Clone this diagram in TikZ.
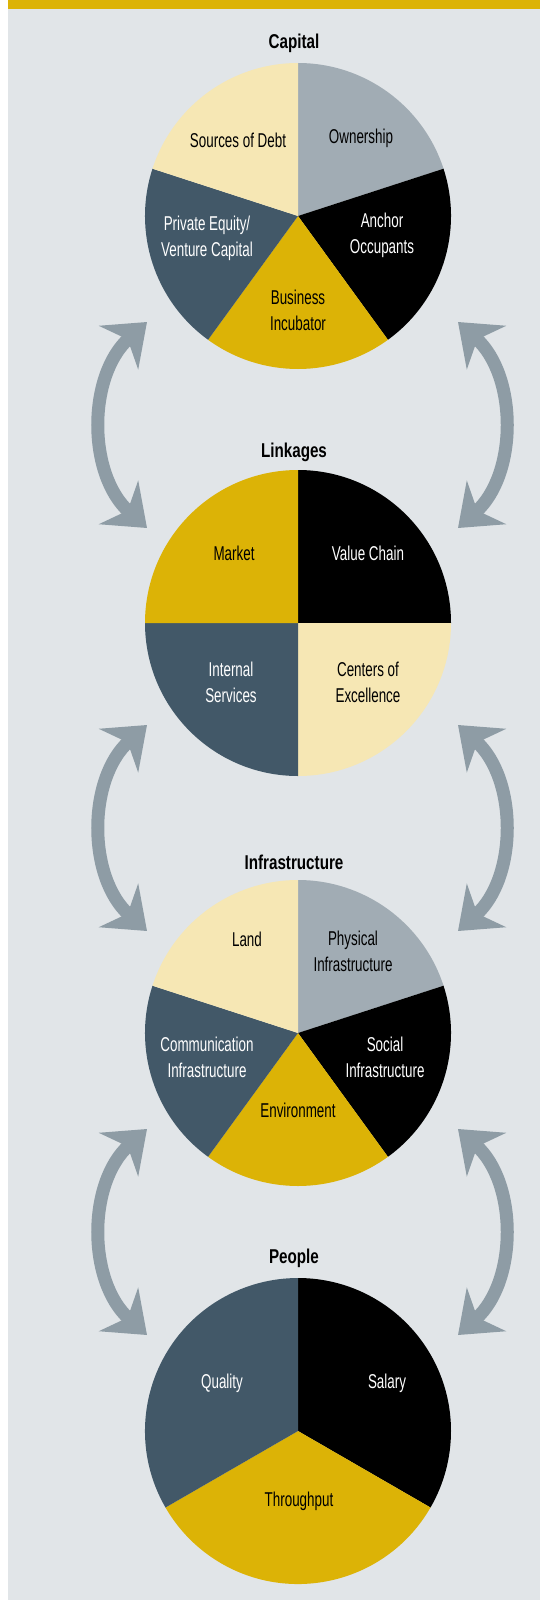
\documentclass[tikz,border=0pt]{standalone}
\usepackage{fontspec}
\setmainfont{Liberation Sans}[FakeStretch=0.67]
\newfontfamily\headfont{Liberation Sans}[FakeStretch=0.76]
\usepackage{tikz}
\usetikzlibrary{arrows.meta}
\definecolor{HubBack}{HTML}{E1E5E8}
\definecolor{HubGold}{HTML}{DCB306}
\definecolor{HubCream}{HTML}{F6E7B4}
\definecolor{HubSilver}{HTML}{A1ACB4}
\definecolor{HubSlate}{HTML}{425868}
\definecolor{HubArrow}{HTML}{8E9CA5}

\begin{document}
\begin{tikzpicture}[x=1pt,y=1pt,
    pie title/.style={font=\headfont\bfseries\fontsize{20}{24}\selectfont, inner sep=0pt},
    ink label/.style={font=\fontsize{20}{26}\selectfont, align=center, inner sep=0pt, text=black},
    pale label/.style={ink label, text=white},
    cycle arrow/.style={draw=HubArrow, line width=13pt,
      >={Stealth[length=38pt,width=58pt,inset=12pt]}, <->}]
        \useasboundingbox (0,0) rectangle (540,-1600);

        % Page background
        \fill[white] (0,0) rectangle (540,-1600);
        \fill[HubBack] (8,-9) rectangle (540,-1600);
        \fill[HubGold] (8,0) rectangle (540,-9);

        % Centres of the four pies
        \coordinate (cap) at (298,-216);
        \coordinate (lnk) at (298,-623);
        \coordinate (inf) at (298,-1033);
        \coordinate (ppl) at (298,-1431);

        % Capital
        \fill[HubSilver] (cap) -- ++(90:153) arc[start angle=90, end angle=18, radius=153] -- cycle;
        \fill[black] (cap) -- ++(18:153) arc[start angle=18, end angle=-54, radius=153] -- cycle;
        \fill[HubGold] (cap) -- ++(-54:153) arc[start angle=-54, end angle=-126, radius=153] -- cycle;
        \fill[HubSlate] (cap) -- ++(-126:153) arc[start angle=-126, end angle=-198, radius=153] -- cycle;
        \fill[HubCream] (cap) -- ++(162:153) arc[start angle=162, end angle=90, radius=153] -- cycle;
        \node[pie title] (captitle) at (294,-43) {Capital};
        \node[ink label] (debt) at (238,-140) {Sources of Debt};
        \node[ink label] (owner) at (361,-138) {Ownership};
        \node[pale label] (equity) at (207,-238) {Private Equity/\\Venture Capital};
        \node[pale label] (anchor) at (382,-235) {Anchor\\Occupants};
        \node[ink label] (incub) at (298,-310) {Business\\Incubator};

        % Linkages
        \fill[black] (lnk) -- ++(90:153) arc[start angle=90, end angle=0, radius=153] -- cycle;
        \fill[HubCream] (lnk) -- ++(0:153) arc[start angle=0, end angle=-90, radius=153] -- cycle;
        \fill[HubSlate] (lnk) -- ++(-90:153) arc[start angle=-90, end angle=-180, radius=153] -- cycle;
        \fill[HubGold] (lnk) -- ++(180:153) arc[start angle=180, end angle=90, radius=153] -- cycle;
        \node[pie title] (lnktitle) at (294,-452) {Linkages};
        \node[ink label] (market) at (234,-553) {Market};
        \node[pale label] (chain) at (368,-553) {Value Chain};
        \node[pale label] (internal) at (231,-682) {Internal\\Services};
        \node[ink label] (excel) at (368,-682) {Centers of\\Excellence};

        % Infrastructure
        \fill[HubSilver] (inf) -- ++(90:153) arc[start angle=90, end angle=18, radius=153] -- cycle;
        \fill[black] (inf) -- ++(18:153) arc[start angle=18, end angle=-54, radius=153] -- cycle;
        \fill[HubGold] (inf) -- ++(-54:153) arc[start angle=-54, end angle=-126, radius=153] -- cycle;
        \fill[HubSlate] (inf) -- ++(-126:153) arc[start angle=-126, end angle=-198, radius=153] -- cycle;
        \fill[HubCream] (inf) -- ++(162:153) arc[start angle=162, end angle=90, radius=153] -- cycle;
        \node[pie title] (inftitle) at (294,-862) {Infrastructure};
        \node[ink label] (land) at (247,-939) {Land};
        \node[ink label] (phys) at (353,-951) {Physical\\Infrastructure};
        \node[pale label] (social) at (385,-1057) {Social\\Infrastructure};
        \node[ink label] (envir) at (298,-1110) {Environment};
        \node[pale label] (comm) at (207,-1057) {Communication\\Infrastructure};

        % People
        \fill[black] (ppl) -- ++(90:153) arc[start angle=90, end angle=-30, radius=153] -- cycle;
        \fill[HubGold] (ppl) -- ++(-30:153) arc[start angle=-30, end angle=-150, radius=153] -- cycle;
        \fill[HubSlate] (ppl) -- ++(-150:153) arc[start angle=-150, end angle=-270, radius=153] -- cycle;
        \node[pie title] (ppltitle) at (294,-1258) {People};
        \node[pale label] (quality) at (222,-1383) {Quality};
        \node[pale label] (salary) at (387,-1383) {Salary};
        \node[ink label] (through) at (299,-1501) {Throughput};

        % Arrow ends
        \coordinate (l1t) at (147,-322);  \coordinate (l1b) at (147,-528);
        \coordinate (r1t) at (458,-322);  \coordinate (r1b) at (458,-528);
        \coordinate (l2t) at (147,-725);  \coordinate (l2b) at (147,-931);
        \coordinate (r2t) at (458,-725);  \coordinate (r2b) at (458,-931);
        \coordinate (l3t) at (147,-1129); \coordinate (l3b) at (147,-1335);
        \coordinate (r3t) at (458,-1129); \coordinate (r3b) at (458,-1335);

        % Arrows between pies
        \draw[cycle arrow] (l1t) to[out=222,in=138,looseness=1] (l1b);
        \draw[cycle arrow] (r1t) to[out=-42,in=42,looseness=1] (r1b);
        \draw[cycle arrow] (l2t) to[out=222,in=138,looseness=1] (l2b);
        \draw[cycle arrow] (r2t) to[out=-42,in=42,looseness=1] (r2b);
        \draw[cycle arrow] (l3t) to[out=222,in=138,looseness=1] (l3b);
        \draw[cycle arrow] (r3t) to[out=-42,in=42,looseness=1] (r3b);
\end{tikzpicture}
\end{document}
